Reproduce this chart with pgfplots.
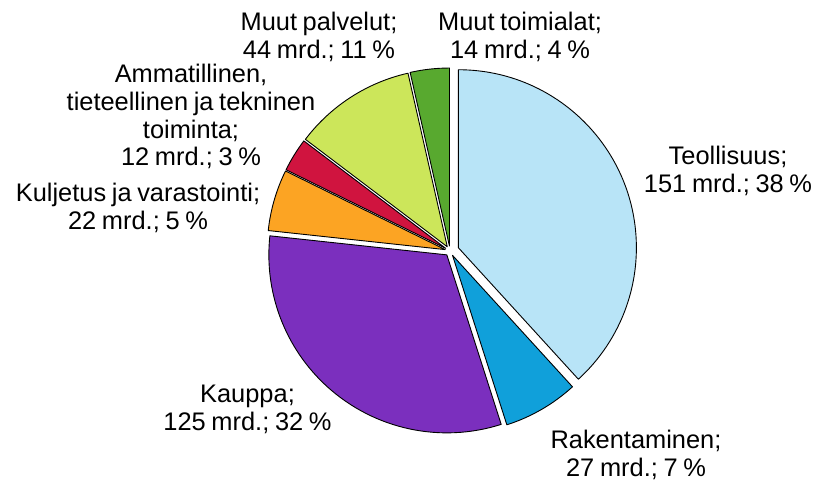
\documentclass[border=0pt]{standalone}
\usepackage{pgfplots}
\usepackage{pgfplotstable}
\pgfplotsset{compat=1.18}
\usepackage{fontspec}
\setmainfont{Liberation Sans}[WordSpace=0.8]

% slice colours, clockwise from 12 o'clock
\definecolor{c0}{HTML}{B8E4F7}
\definecolor{c1}{HTML}{10A0DA}
\definecolor{c2}{HTML}{7B2FBE}
\definecolor{c3}{HTML}{FCA423}
\definecolor{c4}{HTML}{D0143F}
\definecolor{c5}{HTML}{CCE65A}
\definecolor{c6}{HTML}{58A92F}

% value in mrd., explode distance (px)
\pgfplotstableread{
idx value explode
0 151 9
1 27 5
2 125 5
3 22 5
4 12 5
5 44 5
6 14 5
}\piedata

\newcommand\lbl{\fontsize{25.5}{28}\selectfont}

\begin{document}
\begin{tikzpicture}
% total
\gdef\total{0}
\foreach \i in {0,...,6}{
  \pgfplotstablegetelem{\i}{value}\of\piedata
  \pgfmathsetmacro\tmp{\total+\pgfplotsretval}
  \global\let\total\tmp
}
% angles and exploded centres
\gdef\acc{0}
\foreach \i in {0,...,6}{
  \pgfplotstablegetelem{\i}{value}\of\piedata
  \let\sv\pgfplotsretval
  \pgfplotstablegetelem{\i}{explode}\of\piedata
  \let\sd\pgfplotsretval
  \pgfmathsetmacro\angA{90-(\acc/\total)*360}
  \pgfmathsetmacro\angB{90-((\acc+\sv)/\total)*360}
  \pgfmathsetmacro\ccx{450+\sd*cos((\angA+\angB)/2)}
  \pgfmathsetmacro\ccy{230+\sd*sin((\angA+\angB)/2)}
  \expandafter\xdef\csname pa\i\endcsname{\angA}
  \expandafter\xdef\csname pb\i\endcsname{\angB}
  \expandafter\xdef\csname px\i\endcsname{\ccx}
  \expandafter\xdef\csname py\i\endcsname{\ccy}
  \pgfmathsetmacro\tmp{\acc+\sv}
  \global\let\acc\tmp
}
\begin{axis}[
  scale only axis,
  width=817bp, height=481bp,
  xmin=0, xmax=817, ymin=0, ymax=481,
  hide axis, clip=false,
]
\coordinate (bl) at (axis cs:0,0);
\coordinate (tr) at (axis cs:817,481);
\pgfplotsinvokeforeach{0,...,6}{
  \filldraw[fill=c#1, draw=black, line width=0.9bp, line join=round]
    (axis cs:\csname px#1\endcsname,\csname py#1\endcsname)
    -- ++(\csname pa#1\endcsname:178bp)
    arc[start angle=\csname pa#1\endcsname, end angle=\csname pb#1\endcsname, radius=178bp]
    -- cycle;
}
\node[align=center, font=\lbl] at (axis cs:728,310.5) {Teollisuus;\\151 mrd.; 38 \%};
\node[align=center, font=\lbl] at (axis cs:636,26) {Rakentaminen;\\27 mrd.; 7 \%};
\node[align=center, font=\lbl] at (axis cs:247.5,72) {Kauppa;\\125 mrd.; 32 \%};
\node[align=center, font=\lbl] at (axis cs:138,273.5) {Kuljetus ja varastointi;\\22 mrd.; 5 \%};
\node[align=center, font=\lbl] at (axis cs:191,364.5) {Ammatillinen,\\tieteellinen ja tekninen\\toiminta;\\12 mrd.; 3 \%};
\node[align=center, font=\lbl] at (axis cs:319,444) {Muut palvelut;\\44 mrd.; 11 \%};
\node[align=center, font=\lbl] at (axis cs:520,444) {Muut toimialat;\\14 mrd.; 4 \%};
\end{axis}
\pgfresetboundingbox
\useasboundingbox (bl) rectangle (tr);
\end{tikzpicture}
\end{document}
